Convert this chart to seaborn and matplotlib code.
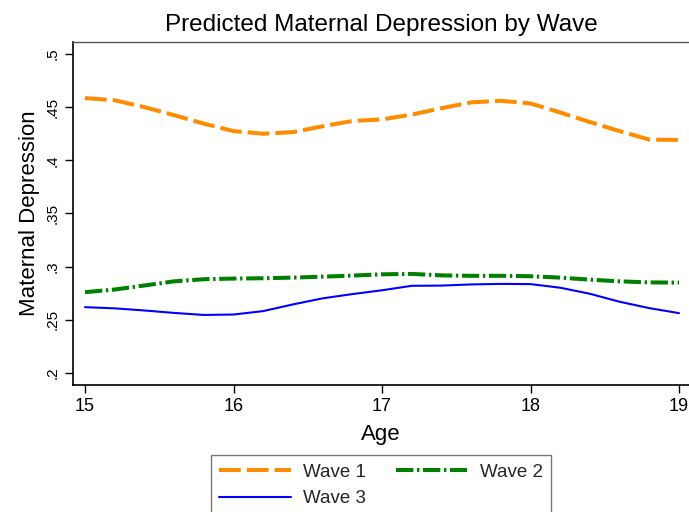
import numpy as np
import pandas as pd
import matplotlib
matplotlib.use("Agg")
import matplotlib.pyplot as plt
import seaborn as sns

# ---- data ----
age = [15.0, 15.2, 15.4, 15.6, 15.8, 16.0, 16.2, 16.4, 16.6, 16.8, 17.0,
       17.2, 17.4, 17.6, 17.8, 18.0, 18.2, 18.4, 18.6, 18.8, 19.0]
wave1 = [.4585, .4565, .4500, .4425, .4345, .4275, .4250, .4265, .4320, .4370, .4385,
         .4430, .4490, .4545, .4560, .4535, .4450, .4360, .4275, .4195, .4192]
wave2 = [.2760, .2785, .2823, .2862, .2882, .2888, .2891, .2897, .2906, .2916, .2928,
         .2932, .2918, .2914, .2914, .2910, .2897, .2878, .2862, .2852, .2850]
wave3 = [.2619, .2608, .2588, .2565, .2546, .2550, .2582, .2645, .2702, .2742, .2778,
         .2820, .2822, .2833, .2838, .2836, .2802, .2745, .2670, .2610, .2563]
series_names = ["Wave 1", "Wave 2", "Wave 3"]
x_ticks = [15, 16, 17, 18, 19]
y_ticks = [0.2, 0.25, 0.3, 0.35, 0.4, 0.45, 0.5]
y_tick_labels = [".2", ".25", ".3", ".35", ".4", ".45", ".5"]
title = "Predicted Maternal Depression by Wave"
x_label = "Age"
y_label = "Maternal Depression"

sns.set_theme(style="white")
plt.rcParams["font.family"] = ["Liberation Sans", "DejaVu Sans"]

fig = plt.figure(figsize=(6.89, 5.12), dpi=100)
ax = fig.add_axes([73 / 689, (512 - 385) / 512, 616 / 689, (385 - 42) / 512])

styles = {
    "Wave 1": dict(color="#FF8C00", lw=2.9, linestyle=(0, (5.4, 1.5))),
    "Wave 2": dict(color="#008000", lw=2.9, linestyle=(0, (4.3, 0.9, 0.6, 0.9))),
    "Wave 3": dict(color="#0000FF", lw=1.5, linestyle="-"),
}
for name, vals in zip(series_names, [wave1, wave2, wave3]):
    df = pd.DataFrame({"Age": age, "Dep": vals})
    sns.lineplot(data=df, x="Age", y="Dep", ax=ax, label=name,
                 estimator=None, sort=True, **styles[name])

ax.set_xlim(15 - 12 / 148.5, 19 + 10 / 148.5)
ax.set_ylim(0.2 - 12 / 1063.3, 0.5 + 12 / 1063.3)
ax.set_xticks(x_ticks)
ax.set_xticklabels([str(t) for t in x_ticks])
ax.set_yticks(y_ticks)
ax.set_yticklabels(y_tick_labels, rotation=90, va="center")

ax.tick_params(axis="both", which="both", direction="out", length=5.5, width=1,
               color="black", labelcolor="black")
ax.tick_params(axis="y", pad=4, labelsize=11)
ax.tick_params(axis="x", pad=4, labelsize=13)
ax.tick_params(bottom=True, left=True)

for s in ["left", "bottom"]:
    ax.spines[s].set_color("black")
    ax.spines[s].set_linewidth(1.2)
ax.spines["top"].set_color("#555555")
ax.spines["top"].set_linewidth(1.0)
ax.spines["right"].set_visible(False)

ax.set_title(title, fontsize=17.5, pad=8, color="black")
ax.set_xlabel(x_label, fontsize=16, labelpad=6, color="black")
ax.set_ylabel(y_label, fontsize=16, labelpad=4, color="black")

handles, labels = ax.get_legend_handles_labels()
order = [0, 2, 1]
ax.legend([handles[i] for i in order], [labels[i] for i in order],
          ncol=2, loc="upper left", mode="expand",
          bbox_to_anchor=(211 / 689, -0.3, 340 / 689, 0.3 + (512 - 455) / 512),
          bbox_transform=fig.transFigure, frameon=True, fancybox=False,
          edgecolor="#555555", fontsize=13.5, handlelength=3.8,
          handletextpad=0.65, columnspacing=1.5, borderpad=0.45,
          labelspacing=0.5, borderaxespad=0)
ax.get_legend().get_frame().set_linewidth(1.0)

fig.savefig("out.png", dpi=100)
